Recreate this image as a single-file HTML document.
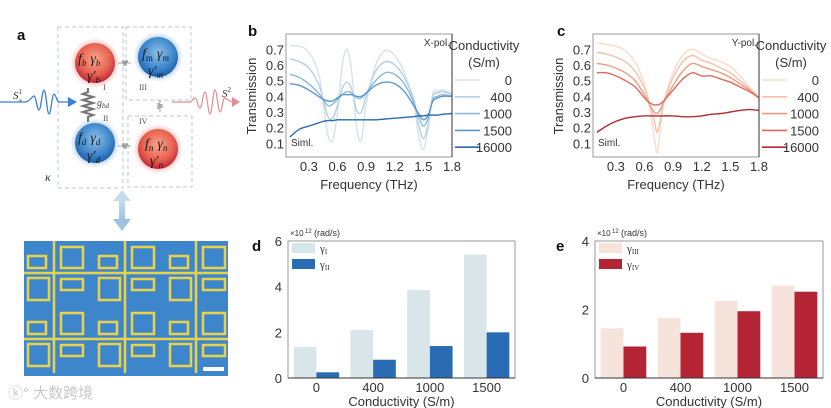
<!DOCTYPE html>
<html><head><meta charset="utf-8">
<style>
html,body{margin:0;padding:0;background:#fff;}
svg{display:block;font-family:"Liberation Sans","Noto Sans CJK SC",sans-serif;}
.t{font-size:13px;fill:#333;}
.s{font-size:10px;fill:#333;}
.it{font-family:"Liberation Serif",serif;font-style:italic;font-size:14px;fill:#1a1a1a;}
</style></head>
<body>
<svg id="fig" width="831" height="408" viewBox="0 0 831 408">
<defs>
<radialGradient id="gr" cx="50%" cy="40%" r="60%"><stop offset="0" stop-color="#f7a58c"/><stop offset="0.65" stop-color="#e8604f"/><stop offset="1" stop-color="#c0243a"/></radialGradient>
<radialGradient id="gb" cx="50%" cy="40%" r="60%"><stop offset="0" stop-color="#8fc0e8"/><stop offset="0.65" stop-color="#3f87cc"/><stop offset="1" stop-color="#1c5ea8"/></radialGradient>
<radialGradient id="glowR"><stop offset="0.7" stop-color="#f0706a" stop-opacity="0.5"/><stop offset="1" stop-color="#f0706a" stop-opacity="0"/></radialGradient>
<radialGradient id="glowB"><stop offset="0.7" stop-color="#5d9ad6" stop-opacity="0.5"/><stop offset="1" stop-color="#5d9ad6" stop-opacity="0"/></radialGradient>
<linearGradient id="arr" x1="0" y1="0" x2="0" y2="1"><stop offset="0" stop-color="#c9dcef"/><stop offset="1" stop-color="#9fc1e2"/></linearGradient>
</defs>

<!-- Panel a -->
<g>
<text x="17" y="40" font-size="15" font-weight="bold" fill="#111">a</text>
<g fill="none" stroke="#b8c4e0" stroke-width="1" stroke-dasharray="4,3">
<rect x="58" y="27" width="65" height="161"/>
<rect x="126" y="27" width="65" height="73"/>
<rect x="128" y="116" width="64" height="71"/>
</g>
<circle cx="95" cy="63" r="25" fill="url(#glowR)"/><circle cx="95" cy="63" r="20" fill="url(#gr)"/>
<circle cx="158" cy="57" r="25" fill="url(#glowB)"/><circle cx="158" cy="57" r="20" fill="url(#gb)"/>
<circle cx="95" cy="143" r="25" fill="url(#glowB)"/><circle cx="95" cy="143" r="20" fill="url(#gb)"/>
<circle cx="158" cy="149" r="25" fill="url(#glowR)"/><circle cx="158" cy="149" r="20" fill="url(#gr)"/>
<text class="it" x="78" y="63">f<tspan font-size="9" dy="3">b</tspan><tspan dy="-3" dx="4">γ</tspan><tspan font-size="9" dy="3">b</tspan></text>
<text class="it" x="87" y="80">γ′<tspan font-size="9" dy="3">b</tspan></text>
<text class="it" x="142" y="58">f<tspan font-size="9" font-style="normal" dy="3">m</tspan><tspan dy="-3" dx="4">γ</tspan><tspan font-size="9" dy="3">m</tspan></text>
<text class="it" x="148" y="75">γ′<tspan font-size="9" dy="3">m</tspan></text>
<text class="it" x="78" y="142">f<tspan font-size="9" dy="3">d</tspan><tspan dy="-3" dx="4">γ</tspan><tspan font-size="9" dy="3">d</tspan></text>
<text class="it" x="87" y="160">γ′<tspan font-size="9" dy="3">d</tspan></text>
<text class="it" x="145" y="148">f<tspan font-size="9" dy="3">n</tspan><tspan dy="-3" dx="4">γ</tspan><tspan font-size="9" dy="3">n</tspan></text>
<text class="it" x="150" y="165">γ′<tspan font-size="9" dy="3">n</tspan></text>
<polyline points="88,88 88,92 83,94 93,97 83,100 93,103 83,106 93,109 83,112 93,115 88,117 88,122" fill="none" stroke="#777" stroke-width="2.2"/>
<text x="97" y="106" font-family="Liberation Serif" font-style="italic" font-size="10" fill="#444">g<tspan font-size="7" dy="2">bd</tspan></text>
<text x="103" y="90" font-family="Liberation Serif" font-size="8" fill="#555">I</text>
<text x="103" y="121" font-family="Liberation Serif" font-size="8" fill="#555">II</text>
<text x="139" y="90" font-family="Liberation Serif" font-size="8" fill="#555">III</text>
<text x="139" y="124" font-family="Liberation Serif" font-size="8" fill="#555">IV</text>
<text x="45" y="181" font-family="Liberation Serif" font-style="italic" font-size="12" fill="#333">κ</text>
<g stroke="#888" stroke-width="0.8" fill="none">
<polyline points="118,63 122,63 123,60 124,66 125,60 126,66 127,60 128,63 131,63"/>
<polyline points="118,146 122,146 123,143 124,149 125,143 126,149 127,143 128,146 131,146"/>
<polyline points="160,100 160,103 157,104 163,105 157,106 163,107 157,108 160,109 160,112"/>
</g>
<path d="M0,102 L25,102 C30,102 32,96 34,96 C36,96 37,110 39,110 C41,110 42,90 44,90 C46,90 47,114 49,114 C51,114 52,94 54,94 C56,94 57,104 60,102 L68,102" fill="none" stroke="#3a7fd0" stroke-width="1.3"/>
<polygon points="68,97 77,102 68,107" fill="#3a7fd0"/>
<text x="13" y="99" font-family="Liberation Serif" font-style="italic" font-size="11" fill="#333">S<tspan font-size="7" dy="4" font-style="normal">+</tspan><tspan font-size="7" dy="-9" dx="-4" font-style="normal">1</tspan></text>
<path d="M172,102 L190,102 C192,102 193,98 195,98 C197,98 198,108 200,108 C202,108 203,92 205,92 C207,92 208,114 210,114 C212,114 213,90 215,90 C217,90 218,112 220,112 C222,112 223,96 225,98 L232,102" fill="none" stroke="#e08c95" stroke-width="1.2"/>
<polygon points="232,97 240,102 232,107" fill="#e08c95"/>
<text x="222" y="97" font-family="Liberation Serif" font-style="italic" font-size="11" fill="#333">S<tspan font-size="7" dy="-5" font-style="normal">2</tspan></text>
<g><rect x="119" y="198" width="6" height="24" fill="url(#arr)"/><polygon points="113,201 122,190 131,201" fill="#c9dcef"/><polygon points="113,219 122,231 131,219" fill="#9fc1e2"/></g>
</g>

<!-- microscope image -->
<g>
<rect x="24" y="241" width="204" height="135" fill="#3d86cc"/>
<g id="srr" stroke="#e9d24a" stroke-width="2.5" fill="none"></g>
<rect x="203" y="367" width="21" height="4" fill="#fff"/>
</g>
<text x="8" y="398" font-size="15" fill="#c8c8c8">ⓚ° 大数跨境</text>

<g id="pb"></g><g id="pc"></g><g id="pd"></g><g id="pe"></g>
</svg>
<script>
// ---- Panel b data ----
const freqB=[0.1,0.2,0.3,0.4,0.45,0.5,0.55,0.6,0.65,0.7,0.75,0.8,0.85,0.9,1.0,1.1,1.2,1.3,1.4,1.45,1.5,1.55,1.6,1.65,1.7,1.8];
const condLabels=["0","400","1000","1500","16000"];
const tB0=[0.72,0.72,0.68,0.55,0.35,0.15,0.12,0.30,0.60,0.70,0.55,0.20,0.12,0.35,0.60,0.69,0.66,0.55,0.35,0.15,0.06,0.20,0.42,0.43,0.44,0.42];
const tB400=[0.64,0.62,0.58,0.48,0.38,0.27,0.26,0.34,0.45,0.49,0.44,0.31,0.30,0.40,0.56,0.62,0.60,0.52,0.38,0.22,0.13,0.22,0.40,0.42,0.43,0.41];
const tB1000=[0.54,0.52,0.48,0.42,0.38,0.34,0.35,0.38,0.41,0.43,0.42,0.39,0.39,0.42,0.50,0.55,0.54,0.48,0.36,0.27,0.21,0.26,0.38,0.40,0.41,0.40];
const tB1500=[0.48,0.47,0.44,0.40,0.38,0.37,0.37,0.39,0.41,0.41,0.41,0.40,0.40,0.42,0.47,0.49,0.48,0.43,0.34,0.29,0.25,0.28,0.37,0.39,0.40,0.40];
const tB16000=[0.14,0.19,0.21,0.23,0.24,0.245,0.245,0.25,0.25,0.25,0.25,0.25,0.25,0.25,0.25,0.255,0.26,0.265,0.27,0.275,0.275,0.28,0.28,0.28,0.285,0.29];
// ---- Panel c data ----
const freqC=[0.1,0.2,0.3,0.4,0.5,0.6,0.65,0.7,0.73,0.76,0.8,0.9,1.0,1.1,1.2,1.3,1.4,1.5,1.6,1.7,1.8];
const tC0=[0.74,0.73,0.72,0.69,0.62,0.48,0.35,0.15,0.04,0.15,0.35,0.55,0.66,0.70,0.67,0.64,0.62,0.59,0.53,0.46,0.39];
const tC400=[0.68,0.67,0.65,0.62,0.56,0.45,0.36,0.25,0.17,0.23,0.36,0.52,0.62,0.66,0.63,0.61,0.58,0.55,0.50,0.45,0.39];
const tC1000=[0.61,0.60,0.58,0.55,0.50,0.41,0.35,0.30,0.29,0.31,0.36,0.47,0.56,0.61,0.59,0.57,0.55,0.52,0.48,0.44,0.39];
const tC1500=[0.55,0.55,0.53,0.50,0.46,0.39,0.36,0.345,0.345,0.35,0.37,0.44,0.51,0.55,0.53,0.53,0.51,0.49,0.46,0.43,0.39];
const tC16000=[0.17,0.21,0.24,0.26,0.27,0.275,0.275,0.275,0.275,0.275,0.275,0.275,0.27,0.27,0.275,0.285,0.29,0.30,0.31,0.315,0.31];
const freqTicks=[0.3,0.6,0.9,1.2,1.5,1.8];
const transTicks=[0.1,0.2,0.3,0.4,0.5,0.6,0.7];
// ---- Panel d/e data ----
const barCats=["0","400","1000","1500"];
const gammaI=[1.35,2.1,3.85,5.4];
const gammaII=[0.25,0.8,1.4,2.0];
const gammaIII=[1.45,1.75,2.25,2.7];
const gammaIV=[0.92,1.32,1.95,2.52];
const ticksD=[0,2,4,6];
const ticksE=[0,2,4];

const NS="http://www.w3.org/2000/svg";
function mk(tag,attrs,parent,text){const e=document.createElementNS(NS,tag);for(const k in attrs)e.setAttribute(k,attrs[k]);if(text!==undefined)e.textContent=text;parent.appendChild(e);return e;}
function smooth(p){let d="M"+p[0][0].toFixed(1)+","+p[0][1].toFixed(1);for(let i=0;i<p.length-1;i++){const p0=p[i-1]||p[i],p1=p[i],p2=p[i+1],p3=p[i+2]||p2;const c1=[p1[0]+(p2[0]-p0[0])/6,p1[1]+(p2[1]-p0[1])/6],c2=[p2[0]-(p3[0]-p1[0])/6,p2[1]-(p3[1]-p1[1])/6];d+=` C${c1[0].toFixed(1)},${c1[1].toFixed(1)} ${c2[0].toFixed(1)},${c2[1].toFixed(1)} ${p2[0].toFixed(1)},${p2[1].toFixed(1)}`;}return d;}

function linePanel(gid,L,R,letter,pol,freq,series,colors,letterX){
  const g=document.getElementById(gid);
  
  
  const T=34,B=157;
  const xs=f=>L+(f-0.06)/(1.8-0.06)*(R-L);
  const ys=v=>143.3-(v-0.1)*156.7;
  const lab=mk('text',{x:letterX,y:36,'font-size':15,'font-weight':'bold',fill:'#111'},g,letter);
  
  
  series.forEach((s,i)=>{const p=mk('path',{d:smooth(freq.map((f,j)=>[xs(f),ys(s[j])])),fill:'none',stroke:colors[i],'stroke-width':1.4},g);
    
    });
  const fr=mk('rect',{x:L,y:T,width:R-L,height:B-T,fill:'none',stroke:'#999','stroke-width':1},g);
  
  
  mk('line',{x1:R,y1:T,x2:R,y2:B,stroke:'#333','stroke-width':1},g);
  freqTicks.forEach(t=>{const e=mk('text',{x:xs(t),y:171,'text-anchor':'middle',class:'t'},g,t.toFixed(1));
    
    });
  transTicks.forEach(t=>{const e=mk('text',{x:L-2,y:ys(t)+5,'text-anchor':'end',class:'t'},g,t.toFixed(1));
    
    });
  const xt=mk('text',{x:(L+R)/2,y:189,'text-anchor':'middle',class:'t'},g,'Frequency (THz)');
  
  
  const yt=mk('text',{x:0,y:0,'text-anchor':'middle',class:'t',transform:`translate(${L-30},96) rotate(-90)`},g,'Transmission');
  
  
  const pl=mk('text',{x:R-2,y:46,'text-anchor':'end',class:'s','font-size':11},g,pol);
  
  
  const sm=mk('text',{x:L+5,y:146,class:'s','font-size':11},g,'Siml.');
  
  
  const lt=mk('text',{x:R+32,y:50,'text-anchor':'middle',class:'t','font-size':12},g,'Conductivity');
  
  
  mk('text',{x:R+32,y:67,'text-anchor':'middle',class:'t','font-size':12},g,'(S/m)');
  condLabels.forEach((c,i)=>{const y=80+i*16.8;
    const ln=mk('line',{x1:R+3,y1:y,x2:R+28,y2:y,stroke:colors[i],'stroke-width':1.6},g);
    
    
    const tx=mk('text',{x:R+60,y:y+5,'text-anchor':'end',class:'t'},g,c);
    
    });
}
linePanel('pb',286,452,'b','X-pol.',freqB,[tB0,tB400,tB1000,tB1500,tB16000],['#d3e3ee','#b4d0e6','#8cb8db','#5d98cb','#2a6bb2'],248);
linePanel('pc',593,759,'c','Y-pol.',freqC,[tC0,tC400,tC1000,tC1500,tC16000],['#f9dccb','#f5c1a8','#ee9a82','#df6a5c','#b22a33'],557);

function barPanel(gid,L,R,letter,ymax,ticks,s1,s2,c1,c2,n1,n2,letterX){
  const g=document.getElementById(gid);
  
  
  const T=241,B=378;
  const ys=v=>B-v/ymax*(B-T);
  const step=(R-L)/barCats.length, bw=step*0.4;
  const lab=mk('text',{x:letterX,y:251,'font-size':15,'font-weight':'bold',fill:'#111'},g,letter);
  
  
  barCats.forEach((c,i)=>{const cx=L+step*(i+0.5);
    const b1=mk('rect',{x:cx-bw,y:ys(s1[i]),width:bw,height:B-ys(s1[i]),fill:c1},g);
    
    
    const b2=mk('rect',{x:cx,y:ys(s2[i]),width:bw,height:B-ys(s2[i]),fill:c2},g);
    
    
    const t=mk('text',{x:cx,y:392,'text-anchor':'middle',class:'t'},g,c);
    
    });
  const fr=mk('rect',{x:L,y:T,width:R-L,height:B-T,fill:'none',stroke:'#999','stroke-width':1},g);
  
  
  mk('line',{x1:L,y1:B,x2:R,y2:B,stroke:'#333','stroke-width':1},g);
  ticks.forEach(t=>{const e=mk('text',{x:L-6,y:ys(t)+5,'text-anchor':'end',class:'t'},g,String(t));
    
    });
  const u=mk('text',{x:L+2,y:236,'font-size':8,fill:'#333'},g,'×10');
  
  
  mk('text',{x:L+17,y:233,'font-size':6,fill:'#333'},g,'12');
  mk('text',{x:L+26,y:236,'font-size':9,fill:'#333'},g,'(rad/s)');
  const xt=mk('text',{x:(L+R)/2,y:406,'text-anchor':'middle',class:'t'},g,'Conductivity (S/m)');
  
  
  [[c1,n1],[c2,n2]].forEach((e,i)=>{const y=243+i*16;
    const r=mk('rect',{x:L+4,y:y,width:23,height:10,fill:e[0]},g);
    
    
    const t=mk('text',{x:L+32,y:y+9,'font-family':'Liberation Serif','font-size':11,fill:'#333'},g,'γ');
    
    
    mk('tspan',{'font-size':7,dy:2},t,e[1]);});
}
barPanel('pd',288,515,'d',6,ticksD,gammaI,gammaII,'#d8e6ea','#2a6cb3','I','II',252);
barPanel('pe',595,823,'e',4,ticksE,gammaIII,gammaIV,'#f6e4dc','#b52434','III','IV',556);

// microscope SRR pattern
const srr=document.getElementById('srr');
[0,71,142].forEach(dx=>{
  [0,66].forEach(dy=>{
    const ox=24+dx, oy=241+dy;
    mk('path',{d:`M${ox+4},${oy+15} h18 v12 h-18 z`},srr);
    mk('rect',{x:ox+37,y:oy+6,width:22,height:21},srr);
    mk('rect',{x:ox+4,y:oy+37,width:21,height:22},srr);
    mk('path',{d:`M${ox+37},${oy+38} h22 v11 h-22 z`},srr);
    mk('line',{x1:ox+30,y1:oy,x2:ox+30,y2:oy+66},srr);
  });
});
[32,98].forEach(yy=>mk('line',{x1:24,y1:241+yy,x2:228,y2:241+yy},srr));
</script>
</body></html>
